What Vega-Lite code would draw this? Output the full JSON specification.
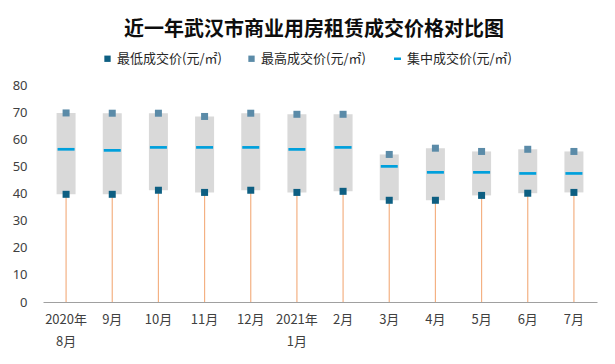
{
  "$schema": "https://vega.github.io/schema/vega-lite/v6.json",
  "width": 554,
  "height": 217,
  "autosize": {"type": "none"},
  "padding": {"left": 43, "top": 85, "right": 18, "bottom": 62},
  "background": "white",
  "title": {
    "text": "近一年武汉市商业用房租赁成交价格对比图",
    "font": "Noto Sans CJK SC",
    "fontSize": 20,
    "fontWeight": "bold",
    "color": "#0d0d0d",
    "anchor": "middle",
    "dx": -6,
    "offset": 12
  },
  "data": {
    "values": [
      {"month": "2020年|8月", "min": 39.7, "max": 69.7, "mid": 56.3},
      {"month": "9月", "min": 39.7, "max": 69.6, "mid": 55.9},
      {"month": "10月", "min": 41.2, "max": 69.6, "mid": 57.0},
      {"month": "11月", "min": 40.4, "max": 68.4, "mid": 57.0},
      {"month": "12月", "min": 41.2, "max": 69.6, "mid": 57.0},
      {"month": "2021年|1月", "min": 40.4, "max": 69.2, "mid": 56.3},
      {"month": "2月", "min": 40.8, "max": 69.2, "mid": 57.0},
      {"month": "3月", "min": 37.5, "max": 54.4, "mid": 50.0},
      {"month": "4月", "min": 37.5, "max": 56.7, "mid": 47.8},
      {"month": "5月", "min": 39.3, "max": 55.5, "mid": 47.8},
      {"month": "6月", "min": 40.1, "max": 56.3, "mid": 47.4},
      {"month": "7月", "min": 40.4, "max": 55.5, "mid": 47.4}
    ]
  },
  "encoding": {
    "x": {
      "field": "month",
      "type": "nominal",
      "sort": null,
      "scale": {"paddingInner": 0, "paddingOuter": 0},
      "axis": {
        "title": null,
        "labelAngle": 0,
        "labelExpr": "split(datum.label, '|')",
        "labelFont": "Noto Sans CJK SC",
        "labelFontSize": 13,
        "labelColor": "#404040",
        "labelPadding": 11,
        "labelLineHeight": 22,
        "labelBaseline": "top",
        "ticks": false,
        "domainColor": "#a0a0a0",
        "domainWidth": 1,
        "grid": false
      }
    }
  },
  "layer": [
    {
      "mark": {"type": "rule", "color": "#F4B183", "strokeWidth": 1.2},
      "encoding": {
        "y": {
          "field": "min",
          "type": "quantitative",
          "scale": {"domain": [0, 80], "nice": false},
          "axis": {"title": null, "values": [0, 10, 20, 30, 40, 50, 60, 70, 80], "labelOverlap": false, "domain": false, "ticks": false, "grid": false, "labelFont": "Noto Sans", "labelFontSize": 13, "labelColor": "#404040", "labelPadding": 16}
        },
        "y2": {"datum": 0}
      }
    },
    {
      "mark": {"type": "bar", "color": "#D9D9D9", "size": 19},
      "encoding": {
        "y": {
          "field": "min",
          "type": "quantitative",
          "axis": {"title": null, "values": [0, 10, 20, 30, 40, 50, 60, 70, 80], "labelOverlap": false, "domain": false, "ticks": false, "grid": false, "labelFont": "Noto Sans", "labelFontSize": 13, "labelColor": "#404040", "labelPadding": 16}
        },
        "y2": {"field": "max"}
      }
    },
    {
      "transform": [
        {"fold": ["min", "max", "mid"], "as": ["series", "value"]},
        {"filter": "datum.series !== 'mid'"}
      ],
      "mark": {"type": "square", "size": 49, "opacity": 1},
      "encoding": {
        "y": {
          "field": "value",
          "type": "quantitative",
          "axis": {"title": null, "values": [0, 10, 20, 30, 40, 50, 60, 70, 80], "labelOverlap": false, "domain": false, "ticks": false, "grid": false, "labelFont": "Noto Sans", "labelFontSize": 13, "labelColor": "#404040", "labelPadding": 16}
        },
        "color": {
          "field": "series",
          "type": "nominal",
          "scale": {"domain": ["min", "max", "mid"], "range": ["#0E5F82", "#5B8BA8", "#00A0DC"]},
          "legend": {
            "title": null,
            "orient": "none",
            "legendX": 58,
            "legendY": -33,
            "direction": "horizontal",
            "padding": 0,
            "symbolType": "square",
            "labelExpr": "datum.value === 'min' ? '最低成交价(元/㎡)' : datum.value === 'max' ? '最高成交价(元/㎡)' : '集中成交价(元/㎡)'",
            "labelFont": "Noto Sans CJK SC",
            "labelFontSize": 13,
            "labelColor": "#262626",
            "labelOffset": 3,
            "columnPadding": 23,
            "symbolSize": 40,
            "symbolOpacity": 1,
            "encode": {
              "symbols": {
                "update": {
                  "shape": {"signal": "datum.value === 'mid' ? 'stroke' : 'square'"},
                  "size": {"signal": "datum.value === 'mid' ? 49 : 40"},
                  "fill": {"signal": "scale('color', datum.value)"},
                  "stroke": {"signal": "scale('color', datum.value)"},
                  "strokeWidth": {"signal": "datum.value === 'mid' ? 2.5 : 0"},
                  "opacity": {"value": 1}
                }
              }
            }
          }
        }
      }
    },
    {
      "transform": [
        {"fold": ["min", "max", "mid"], "as": ["series", "value"]},
        {"filter": "datum.series === 'mid'"}
      ],
      "mark": {"type": "tick", "size": 17, "thickness": 2.7, "opacity": 1},
      "encoding": {
        "y": {
          "field": "value",
          "type": "quantitative",
          "axis": {"title": null, "values": [0, 10, 20, 30, 40, 50, 60, 70, 80], "labelOverlap": false, "domain": false, "ticks": false, "grid": false, "labelFont": "Noto Sans", "labelFontSize": 13, "labelColor": "#404040", "labelPadding": 16}
        },
        "color": {"field": "series", "type": "nominal"}
      }
    }
  ],
  "config": {
    "view": {"stroke": null},
    "font": "Noto Sans CJK SC"
  }
}
